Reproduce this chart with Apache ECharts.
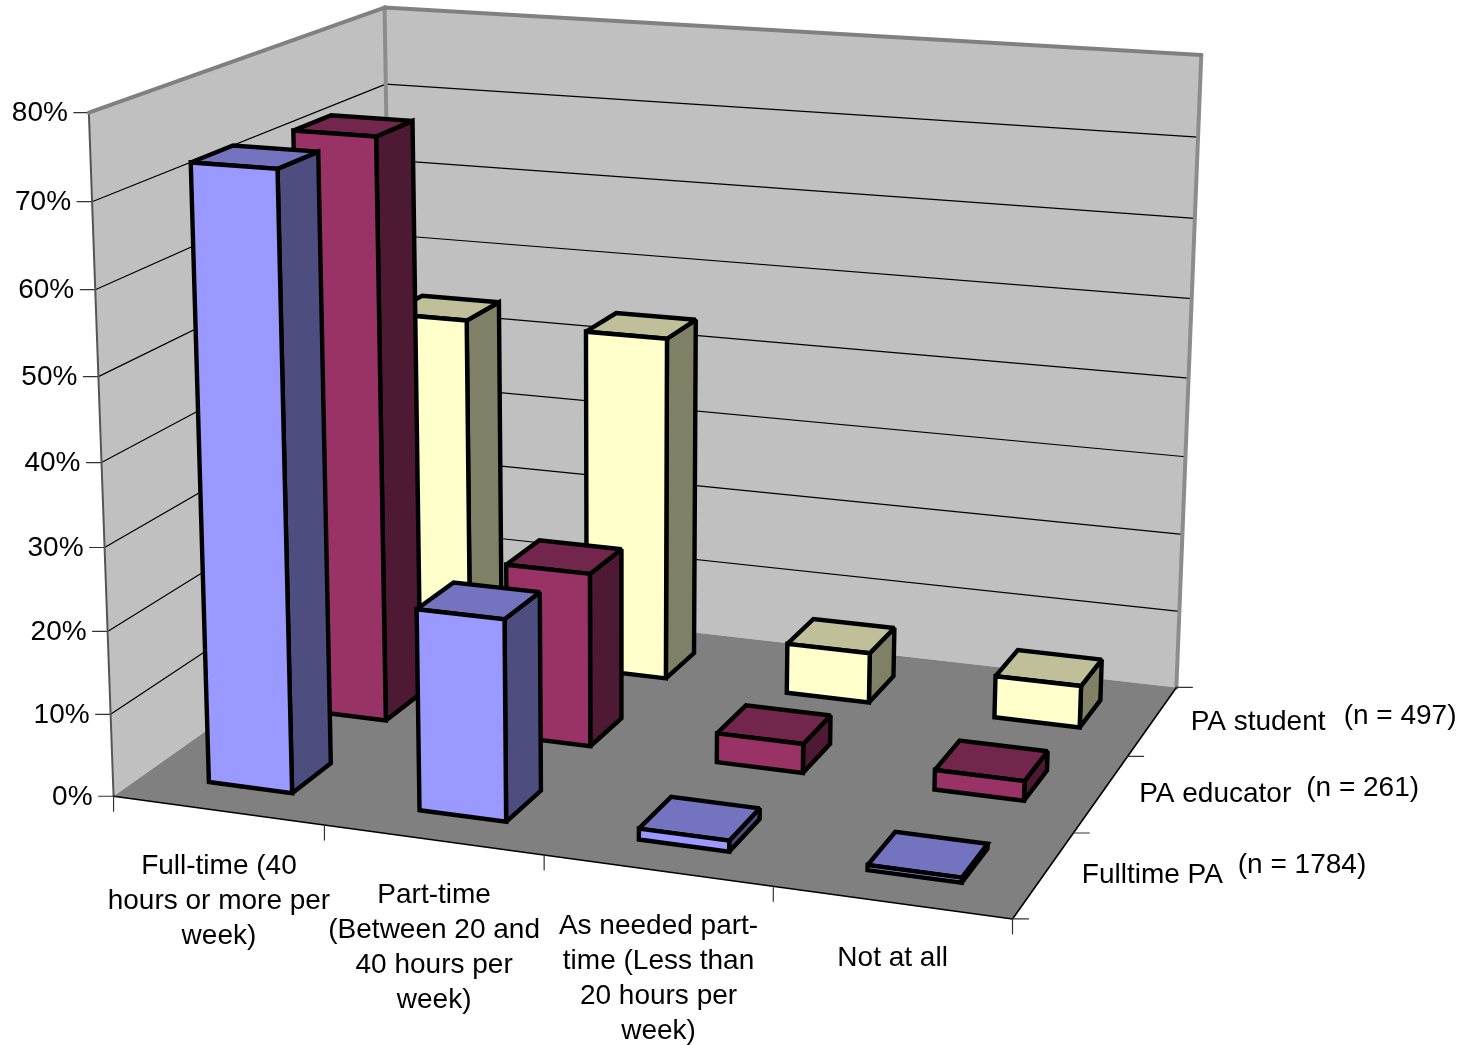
<!DOCTYPE html>
<html><head><meta charset="utf-8">
<style>html,body{margin:0;padding:0;background:#fff}#c{width:1466px;height:1045px}</style>
<script src="https://cdn.jsdelivr.net/npm/echarts@6/dist/echarts.min.js"></script>
</head><body><div id="c"></div>
<script>
// ---- data
const categories = ['Full-time (40\nhours or more per\nweek)', 'Part-time\n(Between 20 and\n40 hours per\nweek)', 'As needed part-\ntime (Less than\n20 hours per\nweek)', 'Not at all'];
const seriesNames = ['Fulltime PA', 'PA educator', 'PA student'];
const seriesNotes = ['(n = 1784)', '(n = 261)', '(n = 497)'];
const fulltimePA = [73.5, 24.1, 1.3, 0.6];
const paEducator = [72.4, 21.6, 3.6, 2.4];
const paStudent = [44.2, 44.1, 6.4, 5.3];
const valueTicks = [0, 10, 20, 30, 40, 50, 60, 70, 80];

// ---- styling
const FONT = '28px "Liberation Sans", Arial, sans-serif';
const faceColors = [
  {front: '#9999FF', top: '#7373BF', side: '#4D4D80'},
  {front: '#993366', top: '#73264C', side: '#4D1933'},
  {front: '#FFFFCC', top: '#BFBF99', side: '#808066'}
];
const barFrac = 0.4;
const barShift = 0.008;

// ---- perspective calibration: (category pos, series pos, value, weight) -> scene position
const calib = [
  [0,0,0,114.5,796,4],[0,0,80,88,112,4],[0,3,0,388.5,598,2],[0,3,80,385.5,8,4],
  [4,3,0,1177,687,4],[4,3,80,1201,55,4],[4,0,0,1011.5,919,4],
  [1,0,0,326,826,2],[2,0,0,545,856,2],[3,0,0,774,888,2],
  [4,1,0,1075,832,1],[4,2,0,1128,755,1],
  [0,0,40,101,462,1],[4,3,40,1190,379,1],[0,3,70,386,86,1]
];
function solveCamera() {
  const rows = [], rhs = [];
  calib.forEach(([u,v,h,x,y,w]) => {
    const U=u/4, V=v/3, H=h/80;
    rows.push([U,V,H,1,0,0,0,0,-x*U,-x*V,-x*H].map(a=>a*w)); rhs.push(x*w);
    rows.push([0,0,0,0,U,V,H,1,-y*U,-y*V,-y*H].map(a=>a*w)); rhs.push(y*w);
  });
  const n = 11, A = [];
  for (let i=0;i<n;i++){ A.push(new Array(n+1).fill(0));
    for (let j=0;j<n;j++) rows.forEach(r=>{A[i][j]+=r[i]*r[j];});
    rows.forEach((r,k)=>{A[i][n]+=r[i]*rhs[k];});
  }
  for (let c=0;c<n;c++){
    let p=c; for(let r=c+1;r<n;r++) if(Math.abs(A[r][c])>Math.abs(A[p][c])) p=r;
    [A[c],A[p]]=[A[p],A[c]];
    for(let r=0;r<n;r++){ if(r===c) continue; const f=A[r][c]/A[c][c];
      for(let k=c;k<=n;k++) A[r][k]-=f*A[c][k]; }
  }
  return A.map((r,i)=>r[n]/r[i]);
}
const P = solveCamera();
function scene(u,v,h){
  const U=u/4,V=v/3,H=h/80, w=P[8]*U+P[9]*V+P[10]*H+1;
  return [(P[0]*U+P[1]*V+P[2]*H+P[3])/w,(P[4]*U+P[5]*V+P[6]*H+P[7])/w];
}

function poly(pts, fill, stroke, lw){
  return {type:'polygon',shape:{points:pts},style:{fill:fill,stroke:stroke||null,lineWidth:lw||0,lineJoin:'miter',miterLimit:2}};
}
function line(a,b,stroke,lw){
  return {type:'line',shape:{x1:a[0],y1:a[1],x2:b[0],y2:b[1]},style:{stroke:stroke,lineWidth:lw,lineCap:'round'}};
}
function label(text,p,align,vAlign){
  return {type:'text',style:{text:text,x:p[0],y:p[1],font:FONT,fill:'#000',align:align,verticalAlign:vAlign||'middle',lineHeight:35}};
}

function renderFrame(params, api){
  const pt=(u,v,h)=>api.coord(scene(u,v,h));
  const kids=[];
  kids.push(poly([pt(0,0,0),pt(0,3,0),pt(0,3,80),pt(0,0,80)],'#C0C0C0'));
  kids.push(poly([pt(0,3,0),pt(4,3,0),pt(4,3,80),pt(0,3,80)],'#C0C0C0'));
  kids.push(poly([pt(0,0,0),pt(4,0,0),pt(4,3,0),pt(0,3,0)],'#808080'));
  valueTicks.forEach(t=>{
    if(t>0 && t<80){
      kids.push(line(pt(0,0,t),pt(0,3,t),'#000',1.2));
      kids.push(line(pt(0,3,t),pt(4,3,t),'#000',1.2));
    }
    const a=pt(0,0,t);
    kids.push(line([a[0]-15,a[1]],a,'#333',1.2));
    kids.push(label(t+'%',[a[0]-21,a[1]+1],'right'));
  });
  kids.push(line(pt(0,0,0),pt(0,0,80),'#555',2));
  kids.push(line(pt(0,3,0),pt(0,3,80),'#8c8c8c',4));
  kids.push(line(pt(4,3,0),pt(4,3,80),'#8c8c8c',4));
  kids.push(line(pt(0,0,80),pt(0,3,80),'#808080',4));
  kids.push(line(pt(0,3,80),pt(4,3,80),'#808080',4));
  kids.push(line(pt(0,0,0),pt(4,0,0),'#000',1.6));
  kids.push(line(pt(4,0,0),pt(4,3,0),'#000',1.6));
  for(let u=0;u<=4;u++){ const a=pt(u,0,0); kids.push(line(a,[a[0],a[1]+15],'#333',1.2)); }
  for(let v=0;v<=3;v++){ const a=pt(4,v,0); kids.push(line(a,[a[0]+16,a[1]],'#333',1.2)); }
  categories.forEach((c,i)=>{
    const a=pt(i+0.5,0,0);
    kids.push({type:'text',style:{text:c,x:a[0]+1,y:a[1]+38,font:FONT,fill:'#000',align:'center',verticalAlign:'top',lineHeight:35}});
  });
  const noteDx=[156,167,153], noteDy=[-9,-5,-5];
  seriesNames.forEach((s,i)=>{
    const a=pt(4,i+0.5,0), lx=a[0]+38;
    kids.push(label(s,[lx,a[1]+1],'left'));
    kids.push(label(seriesNotes[i],[lx+noteDx[i],a[1]+noteDy[i]],'left'));
  });
  return {type:'group',children:kids};
}

function renderBar(v){
  return function(params, api){
    const u=api.value(0)+barShift, h=api.value(1);
    const g=(1-barFrac)/2;
    const u0=u+g,u1=u+1-g,v0=v+g,v1=v+1-g;
    const pt=(a,b,c)=>api.coord(scene(a,b,c));
    const c=faceColors[v], S='#000', W=4.4;
    return {type:'group',children:[
      poly([pt(u1,v0,0),pt(u1,v1,0),pt(u1,v1,h),pt(u1,v0,h)],c.side,S,W),
      poly([pt(u0,v0,h),pt(u1,v0,h),pt(u1,v1,h),pt(u0,v1,h)],c.top,S,W),
      poly([pt(u0,v0,0),pt(u1,v0,0),pt(u1,v0,h),pt(u0,v0,h)],c.front,S,W)
    ]};
  };
}

const values=[fulltimePA,paEducator,paStudent];
const barSeries=[2,1,0].map(v=>({
  type:'custom',name:seriesNames[v],coordinateSystem:'cartesian2d',silent:true,
  renderItem:renderBar(v),clip:false,
  data:values[v].map((x,i)=>[i,x])
}));

const chart=echarts.init(document.getElementById('c'),null,{renderer:'canvas'});
chart.setOption({
  animation:false,backgroundColor:'#fff',
  grid:{left:0,right:0,top:0,bottom:0},
  xAxis:{type:'value',min:0,max:1466,show:false},
  yAxis:{type:'value',min:0,max:1045,inverse:true,show:false},
  tooltip:{show:false},
  series:[{type:'custom',name:'frame',silent:true,clip:false,renderItem:renderFrame,data:[[0,0]]}].concat(barSeries)
});
</script></body></html>
